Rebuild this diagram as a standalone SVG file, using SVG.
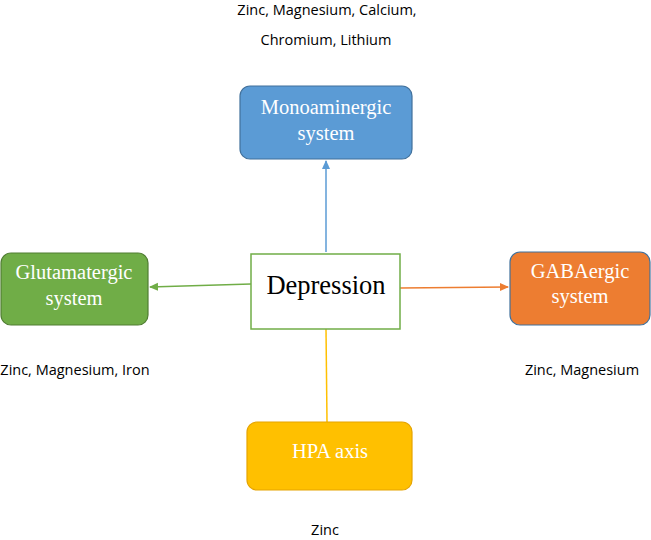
<svg xmlns="http://www.w3.org/2000/svg" width="651" height="540" viewBox="0 0 651 540">
<defs>
<style>
.lbl{font-family:"Open Sans","Liberation Sans",sans-serif;font-size:14.5px;fill:#000}
.bt{font-family:"Liberation Serif",serif;font-size:20.5px;fill:#fff;text-anchor:middle}
</style>
<marker id="aB" markerWidth="10" markerHeight="10" refX="8" refY="5" orient="auto" markerUnits="userSpaceOnUse"><path d="M0,1 L9,5 L0,9 Z" fill="#5b9bd5"/></marker>
<marker id="aG" markerWidth="10" markerHeight="10" refX="8" refY="5" orient="auto" markerUnits="userSpaceOnUse"><path d="M0,1 L9,5 L0,9 Z" fill="#70ad47"/></marker>
<marker id="aO" markerWidth="10" markerHeight="10" refX="8" refY="5" orient="auto" markerUnits="userSpaceOnUse"><path d="M0,1 L9,5 L0,9 Z" fill="#ed7d31"/></marker>
</defs>
<rect width="651" height="540" fill="#fff"/>
<g id="connectors" fill="none" stroke-width="1.5">
<line x1="326" y1="252" x2="326" y2="161" stroke="#5b9bd5" marker-end="url(#aB)"/>
<line x1="251" y1="284" x2="150" y2="287" stroke="#70ad47" marker-end="url(#aG)"/>
<line x1="400" y1="288" x2="508" y2="287" stroke="#ed7d31" marker-end="url(#aO)"/>
<line x1="326" y1="329" x2="327" y2="422" stroke="#ffc000"/>
</g>
<g id="monoaminergic">
<rect x="240" y="86" width="172" height="73" rx="10" fill="#5b9bd5" stroke="#41719c" stroke-width="1.2"/>
<text class="bt" x="326" y="114">Monoaminergic</text>
<text class="bt" x="326" y="140">system</text>
</g>
<g id="glutamatergic">
<rect x="1" y="253" width="147" height="72" rx="10" fill="#70ad47" stroke="#507e32" stroke-width="1.2"/>
<text class="bt" x="74" y="279">Glutamatergic</text>
<text class="bt" x="74" y="305">system</text>
</g>
<g id="depression">
<rect x="251" y="254" width="149" height="75" fill="#fff" stroke="#70ad47" stroke-width="1.5"/>
<text x="326" y="294" font-family="Liberation Serif,serif" font-size="26.5" text-anchor="middle" fill="#000">Depression</text>
</g>
<g id="gabaergic">
<rect x="510" y="252" width="140" height="73" rx="10" fill="#ed7d31" stroke="#41719c" stroke-width="1.2"/>
<text class="bt" x="580" y="278">GABAergic</text>
<text class="bt" x="580" y="303">system</text>
</g>
<g id="hpa">
<rect x="247" y="422" width="165" height="68" rx="10" fill="#ffc000" stroke="#e6a400" stroke-width="1.2"/>
<text class="bt" x="330" y="458">HPA axis</text>
</g>
<g id="labels">
<text class="lbl" x="327" y="15" text-anchor="middle">Zinc, Magnesium, Calcium,</text>
<text class="lbl" x="326" y="45" text-anchor="middle">Chromium, Lithium</text>
<text class="lbl" x="75" y="375" text-anchor="middle">Zinc, Magnesium, Iron</text>
<text class="lbl" x="582" y="375" text-anchor="middle">Zinc, Magnesium</text>
<text class="lbl" x="325" y="535" text-anchor="middle">Zinc</text>
</g>
</svg>
